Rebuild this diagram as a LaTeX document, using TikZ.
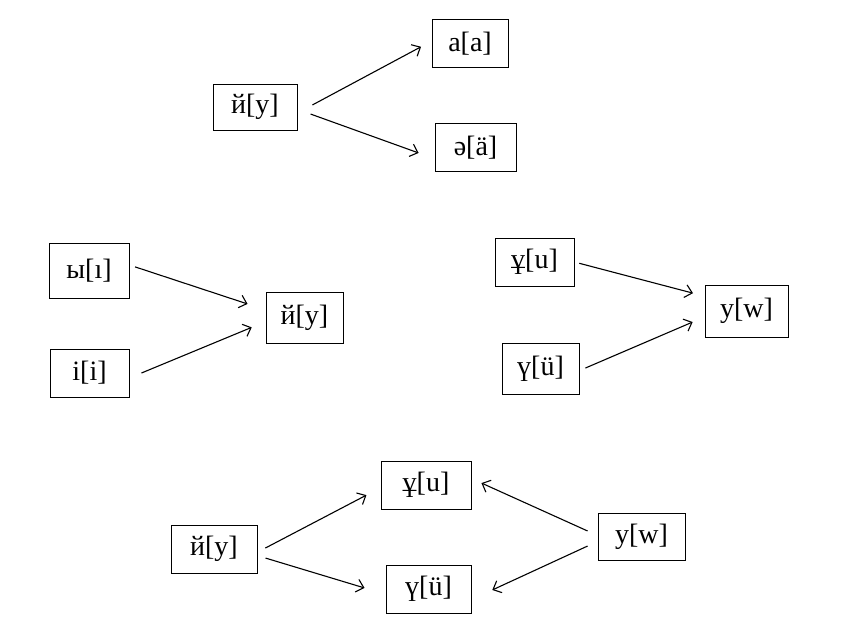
\documentclass[tikz,border=0pt]{standalone}
\usepackage{fontspec}
\setmainfont{Liberation Serif}
\usetikzlibrary{arrows.meta}

\begin{document}
\begin{tikzpicture}[x=1pt,y=-1pt,
		box/.style={draw,line width=0.8pt,minimum height=48pt,minimum width=82pt,inner sep=0pt,font=\fontsize{28}{32}\selectfont},
		arr/.style={line width=1.1pt,-{Straight Barb[length=7pt,width=13pt,line width=1.1pt]}}]
	\useasboundingbox (0,0) rectangle (848,633);
	% top: y -> a, ae
	\node[box,minimum width=84pt,minimum height=46pt] (y1) at (255,107) {й[y]};
	\node[box,minimum width=76pt] (a1) at (470,43.5) {а[a]};
	\node[box,minimum width=81pt] (ae1) at (475.5,147.5) {ә[ä]};
	\draw[arr,shorten <=17pt,shorten >=12pt] ([yshift=-6pt]y1.east) -- ([yshift=2.4pt]a1.west);
	\draw[arr,shorten <=14pt,shorten >=17pt] ([yshift=-2.3pt]y1.east) -- ([yshift=-11.2pt]ae1.west);
	% middle left: y <- i, i
	\node[box,minimum width=80pt,minimum height=55pt] (yi2) at (89,270.5) {ы[ı]};
	\node[box,minimum width=79pt] (i2) at (89.5,373) {і[i]};
	\node[box,minimum width=77pt,minimum height=51pt] (y2) at (304.5,317.5) {й[y]};
	\draw[arr,shorten <=6pt,shorten >=19pt] ([yshift=5.5pt]yi2.east) -- ([yshift=7.6pt]y2.west);
	\draw[arr,shorten <=13pt,shorten >=15pt] ([yshift=-5pt]i2.east) -- ([yshift=-4.1pt]y2.west);
	% middle right: w <- u, ue
	\node[box,minimum width=79pt] (u3) at (534.5,262) {ұ[u]};
	\node[box,minimum width=77pt,minimum height=51pt] (ue3) at (540.5,368.5) {ү[ü]};
	\node[box,minimum width=83pt,minimum height=52pt] (w3) at (746.5,311) {у[w]};
	\draw[arr,shorten <=5pt,shorten >=12pt] (u3.east) -- ([yshift=14.8pt]w3.west);
	\draw[arr,shorten <=6.5pt,shorten >=13pt] ([yshift=-2.1pt]ue3.east) -- ([yshift=-5.9pt]w3.west);
	% bottom: y -> u, ue <- w
	\node[box,minimum width=86pt] (y4) at (214,549) {й[y]};
	\node[box,minimum width=90pt] (u4) at (426,485) {ұ[u]};
	\node[box,minimum width=85pt] (ue4) at (428.5,589) {ү[ü]};
	\node[box,minimum width=87pt,minimum height=47pt] (w4) at (641.5,536.5) {у[w]};
	\draw[arr,shorten <=9pt,shorten >=16pt] ([yshift=-3.2pt]y4.east) -- ([yshift=-2.7pt]u4.west);
	\draw[arr,shorten <=8.5pt,shorten >=22pt] ([yshift=-6.6pt]y4.east) -- ([yshift=-5.3pt]ue4.west);
	\draw[arr,shorten <=11pt,shorten >=11pt] ([yshift=1pt]w4.west) -- ([yshift=6.5pt]u4.east);
	\draw[arr,shorten <=11pt,shorten >=23pt] ([yshift=-4.9pt]w4.west) -- ([yshift=-10.6pt]ue4.east);
\end{tikzpicture}
\end{document}
